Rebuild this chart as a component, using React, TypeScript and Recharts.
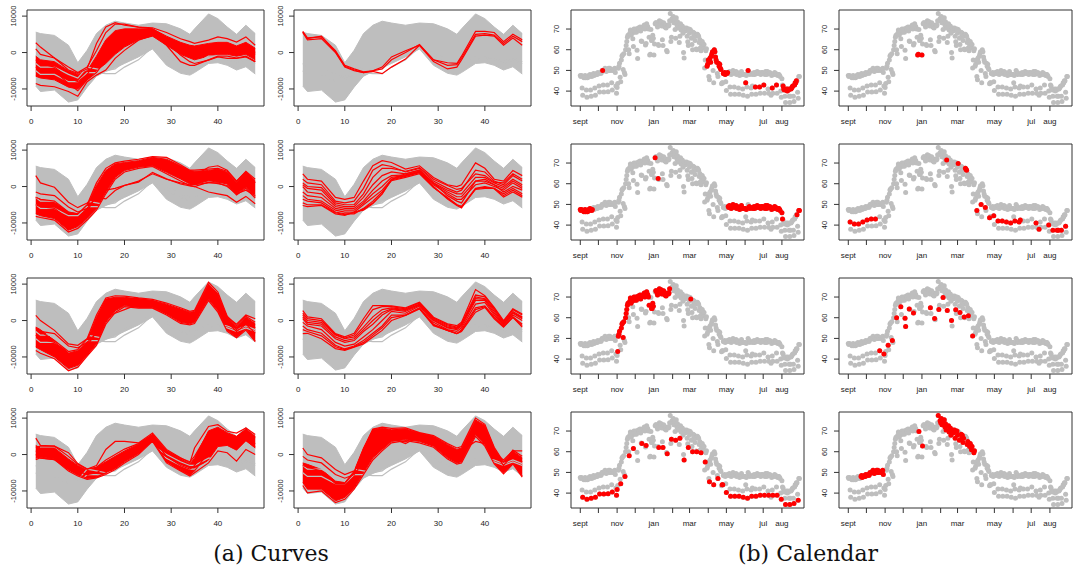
import React from 'react';
import { ComposedChart, ScatterChart, Scatter, Line, Area, XAxis, YAxis, ReferenceArea } from 'recharts';

const GRAY = '#bebebe';
const RED = '#ff0000';
const INK = '#333333';
const SANS = 'Liberation Sans, Arial, Helvetica, sans-serif';

// half-hour positions at which every centred load curve is sampled
const knots = [1, 2, 5, 8, 10, 12, 14, 16, 18, 20, 23, 26, 29, 32, 34, 35, 38, 40, 42, 44, 46, 48];

// envelope of all daily curves (thousands)
const allUpper = [5.6, 5.2, 4.7, 2.0, -2.8, 0.6, 5.2, 7.5, 8.6, 8.1, 7.5, 8.1, 7.9, 6.5, 5.0, 6.5, 10.6, 9.3, 7.0, 5.0, 7.5, 5.2];
const allLower = [-9.2, -10.7, -10.3, -13.6, -13.0, -9.5, -6.5, -5.2, -4.2, -3.0, -1.2, 1.0, -3.5, -5.7, -6.2, -5.5, -3.0, -2.8, -3.5, -4.8, -3.9, -5.9];
// a couple of stray days lying under the envelope
const strayCurves = [
  [-5, -6, -6, -8, -8, -5.5, -5.5, -5.8, -5.8, -4.0, -2.0, 1.5, -1.0, -3, -4, -4, -2, -1.5, -2, -3, -2, -3],
  [-3, -4, -4, -6, -7, -4, -4.5, -5, -4.5, -2.5, -0.8, 2.5, 0, -2, -3, -3, -1, -1, -1.5, -2.5, -1.5, -2.5],
];

// cluster 1: spring weekdays, july saturdays, august
const cluster1Upper = [-1.0, -2.0, -2.5, -5.0, -6.0, -5.0, -1.0, 3.5, 6.0, 6.5, 6.5, 6.5, 4.5, 2.8, 2.0, 1.8, 2.5, 2.8, 2.8, 1.8, 2.8, 1.2];
const cluster1Lower = [-6.5, -7.0, -7.5, -9.5, -10.0, -7.5, -5.0, -3.0, -0.5, 1.5, 3.5, 4.5, 2.0, -0.5, -1.5, -2.0, -1.0, -0.5, -0.5, -1.0, -0.5, -2.0];
const cluster1Curves = [
  [2.7, 1.5, -1.5, -4.8, -5.7, -4.5, 2.5, 7.0, 8.2, 7.5, 7.0, 6.8, 5.5, 3.8, 3.0, 2.5, 3.4, 4.3, 3.8, 2.9, 4.3, 2.0],
  [-8.5, -9.0, -9.4, -10.7, -12.0, -8.0, -6.2, -4.8, -1.6, 0.6, 3.4, 4.7, 2.9, -0.7, -2.5, -3.0, -2.1, -1.2, -1.6, -1.6, -1.2, -2.5],
  [1.0, -0.5, -1.5, -4.0, -5.5, -4.0, 0.5, 5.5, 7.8, 7.8, 7.0, 6.5, 4.0, 1.5, 0.0, -0.5, 1.0, 2.0, 1.5, 0.5, 2.0, 0.0],
  [-4.0, -4.5, -5.0, -8.5, -10.5, -7.5, -5.5, -2.0, 2.0, 4.0, 5.5, 5.5, 2.0, -2.5, -3.5, -3.5, -2.0, -1.0, -1.0, -1.5, -1.0, -2.5],
  [-2.0, -3.0, -4.0, -7.0, -8.0, -6.0, -2.5, 1.5, 4.5, 6.0, 6.0, 6.0, 3.5, 0.5, -0.5, -1.0, 0.5, 1.0, 1.0, 0.0, 1.5, -0.5],
];

// cluster 2: christmas / new year
const cluster2Curves = [
  [5.8, 4.0, 4.3, 0.5, -3.5, -4.5, -5.3, -5.0, -4.0, -1.2, 0.5, 2.0, -2.0, -2.8, -3.0, -1.0, 5.8, 5.8, 5.5, 3.0, 5.0, 3.5],
  [5.5, 3.5, 3.8, 0.0, -4.0, -5.0, -5.5, -5.2, -5.8, -4.0, -1.8, 2.0, -2.5, -4.5, -4.0, -2.0, 4.5, 4.8, 4.5, 2.0, 4.0, 2.0],
  [5.6, 3.8, 4.5, 0.2, -3.8, -4.8, -5.5, -5.0, -4.5, -2.0, 0.0, 2.2, -2.0, -3.5, -3.3, -1.5, 5.0, 5.2, 4.8, 2.5, 4.5, 3.0],
];

// cluster 3: summer and september weekdays
const cluster3Upper = [-2.9, -3.5, -4.3, -7.0, -7.5, -5.2, 0.3, 4.4, 6.2, 6.6, 7.1, 8.0, 7.5, 5.7, 4.4, 4.2, 4.4, 4.8, 3.9, 1.2, 3.9, 1.6];
const cluster3Lower = [-7.5, -8.0, -8.8, -12.0, -11.0, -8.8, -6.1, -1.5, 2.5, 4.4, 5.3, 5.7, 3.9, 2.1, 0.7, 0.5, 1.6, 1.2, 0.7, -2.0, -0.2, -2.9];
const cluster3Curves = [
  [3.0, 1.0, -0.2, -4.3, -5.8, -4.5, -2.5, -1.0, -0.5, 0.3, 1.2, 3.9, 2.1, 0.7, 0.2, 0.0, -1.5, -2.0, -2.5, -4.3, -2.7, -4.7],
  [-1.5, -2.0, -2.5, -5.6, -7.0, -6.0, -3.0, -3.4, -1.1, 0.3, 1.5, 3.5, 2.0, 1.0, 0.5, 0.5, 1.0, 1.0, 0.0, -2.0, -1.0, -2.5],
  [-5.0, -5.5, -6.0, -9.0, -10.0, -7.0, -2.0, 3.0, 5.5, 6.0, 6.5, 7.0, 6.0, 4.0, 3.0, 3.0, 5.3, 5.7, 4.5, 1.5, 4.0, 1.0],
  [-8.2, -8.5, -9.2, -12.5, -11.5, -9.2, -6.5, -2.0, 2.0, 4.0, 5.0, 5.5, 3.5, 1.5, 0.3, 0.0, 1.2, 0.8, 0.3, -2.3, -0.5, -3.2],
  [-3.0, -3.5, -4.0, -7.0, -7.5, -5.0, 1.0, 5.0, 6.5, 7.0, 7.5, 8.2, 8.0, 6.0, 4.5, 4.5, 4.8, 5.0, 4.2, 1.5, 4.2, 2.0],
];

// cluster 4: autumn and spring saturdays, bank holidays
const cluster4Curves = [
  [3.5, 2.0, 1.5, -3.0, -3.5, -3.0, 1.5, 5.7, 7.1, 6.6, 4.8, 5.7, 2.5, 0.5, 0.0, 0.5, 6.5, 5.0, 2.0, 1.5, 4.4, 3.0],
  [2.0, 1.0, 0.5, -4.0, -4.5, -4.0, -0.5, 4.5, 6.0, 5.5, 4.0, 5.0, 1.5, -0.5, -1.5, -1.0, 4.5, 4.0, 1.5, 0.5, 3.0, 1.5],
  [0.5, -0.5, -1.0, -5.0, -5.5, -5.5, -3.0, 0.5, 3.0, 4.0, 3.5, 4.5, 1.0, -1.0, -2.0, -2.0, 2.5, 2.5, 1.0, 0.0, 2.0, 0.5],
  [-1.5, -2.5, -3.0, -6.0, -6.5, -6.5, -4.5, -2.0, 0.0, 2.5, 3.0, 4.0, 0.5, -2.0, -3.5, -3.5, 0.5, 1.0, 0.0, -1.0, 1.0, -0.5],
  [-3.5, -4.0, -4.5, -7.0, -7.5, -7.5, -6.0, -4.0, -1.5, 1.6, 2.5, 3.5, -0.3, -3.0, -5.0, -5.5, -0.5, 0.0, -0.5, -2.0, -0.5, -2.0],
  [-5.2, -5.5, -5.2, -7.5, -7.9, -7.0, -6.5, -4.7, -2.0, 2.0, 3.0, 4.0, 0.0, -3.4, -5.2, -5.9, -0.6, -0.2, -0.6, -2.9, -1.5, -2.9],
  [1.0, 0.0, -0.3, -4.5, -5.0, -5.0, -2.0, 2.5, 5.0, 5.0, 4.2, 5.2, 2.0, 0.3, -0.8, -0.5, 3.5, 3.0, 1.2, 1.0, 3.5, 2.0],
  [-2.5, -3.5, -4.0, -6.5, -7.0, -7.0, -5.0, -3.0, -1.0, 2.0, 3.5, 4.5, 1.0, -2.5, -4.0, -4.5, 1.5, 1.5, 0.5, -1.5, 0.0, -1.0],
  [0.0, -1.5, -2.0, -5.5, -6.0, -6.0, -4.0, -1.0, 1.5, 3.0, 3.2, 4.2, 0.8, -1.5, -2.8, -2.8, 1.5, 2.0, 0.5, -0.5, 1.5, 0.0],
  [-4.5, -5.0, -5.0, -7.2, -7.7, -7.2, -6.2, -4.5, -2.0, 1.8, 2.8, 3.8, -0.2, -3.2, -5.0, -5.5, -0.8, -0.5, -0.5, -2.5, -1.0, -2.5],
];

// cluster 5: winter weekdays
const cluster5Upper = [-1.8, -2.5, -5.5, -9.0, -8.2, -5.5, 0.9, 5.9, 6.4, 6.4, 5.9, 5.5, 4.5, 3.2, 2.3, 2.5, 10.0, 7.3, 0.9, -1.8, 0.9, -0.9];
const cluster5Lower = [-7.3, -8.0, -10.0, -13.2, -12.3, -9.5, -6.4, -0.5, 2.7, 4.1, 3.6, 3.6, 1.8, -0.5, -0.9, -0.5, 5.9, 2.7, -2.7, -4.5, -2.3, -5.5];
const cluster5Curves = [
  [1.4, 0.0, -2.7, -6.4, -6.8, -5.0, -1.0, 3.0, 5.0, 6.0, 6.0, 5.5, 4.0, 3.0, 1.5, 2.0, 8.0, 6.0, 1.0, -1.0, 1.5, 0.5],
  [-2.5, -3.0, -3.6, -7.0, -7.5, -6.0, -3.5, 2.0, 4.0, 5.0, 5.0, 4.8, 3.5, 2.0, 1.0, 1.0, 7.0, 5.0, 0.0, -2.5, 0.0, -2.0],
  [-8.2, -9.0, -10.5, -13.8, -12.8, -9.8, -6.8, -1.0, 2.2, 3.8, 3.4, 3.4, 1.5, -0.8, -1.2, -0.8, 5.5, 2.3, -3.0, -4.7, -2.6, -5.8],
  [-4.0, -5.0, -6.0, -9.0, -9.0, -7.0, -3.0, 1.0, 2.0, 3.0, 4.5, 5.0, 3.0, 1.0, 0.5, 0.8, 8.5, 6.0, -0.5, -3.0, -1.0, -3.5],
  [-2.0, -3.0, -5.5, -8.5, -8.0, -5.0, 1.5, 6.2, 6.8, 6.7, 6.2, 5.8, 4.8, 3.5, 2.5, 2.8, 10.5, 7.8, 1.2, -1.5, 1.2, -0.5],
];

// cluster 6: winter saturdays
const cluster6Curves = [
  [2.7, 1.0, 0.5, -3.6, -4.5, -3.5, 0.5, 4.1, 4.1, 4.0, 3.5, 5.0, 0.9, -0.9, -1.4, -0.5, 8.5, 6.8, 3.6, 0.0, 3.2, 1.8],
  [1.5, 0.0, -0.5, -4.0, -5.0, -4.5, -1.8, 1.0, 3.0, 3.5, 3.0, 4.5, 0.5, -1.5, -2.0, -1.0, 6.5, 6.0, 3.0, -0.5, 2.5, 1.0],
  [0.5, -1.0, -1.5, -5.0, -6.0, -5.5, -3.0, -1.0, 1.5, 3.0, 2.5, 4.2, 0.0, -2.0, -2.5, -1.5, 5.5, 5.5, 2.0, -1.0, 2.0, 0.5],
  [-0.5, -1.5, -2.5, -6.0, -7.0, -6.5, -4.5, -2.5, 0.0, 2.5, 2.0, 4.0, -0.5, -2.5, -3.0, -2.0, 4.5, 5.0, 1.5, -1.2, 1.5, 0.0],
  [-1.5, -2.5, -3.5, -6.8, -7.8, -7.0, -5.5, -3.5, -1.5, 1.5, 1.5, 3.5, -1.0, -2.7, -3.6, -2.5, 3.5, 4.0, 1.0, -1.5, 1.0, -1.0],
  [-3.6, -3.5, -5.0, -7.7, -8.2, -7.3, -6.4, -4.5, -2.7, 0.0, 1.4, 3.2, -1.4, -2.7, -3.6, -3.0, 2.3, 3.6, 0.5, -1.8, 0.9, -1.8],
  [2.0, 0.5, 0.0, -3.8, -4.8, -4.0, -0.5, 3.0, 3.8, 3.8, 3.2, 4.8, 0.7, -1.2, -1.8, -0.8, 7.0, 6.5, 3.3, -0.3, 3.0, 1.5],
  [1.0, -0.5, -1.0, -4.5, -5.5, -5.0, -2.5, 0.0, 2.2, 3.2, 2.8, 4.4, 0.2, -1.8, -2.2, -1.2, 6.0, 5.8, 2.5, -0.8, 2.2, 0.8],
  [-2.5, -3.0, -4.2, -7.2, -8.0, -7.2, -6.0, -4.0, -2.0, 0.8, 1.5, 3.3, -1.2, -2.7, -3.6, -2.8, 3.0, 3.8, 0.8, -1.6, 0.9, -1.4],
];

// cluster 7: sundays
const cluster7Upper = [2.5, 1.8, 1.8, -1.2, -3.0, -4.3, -3.5, -2.0, -0.5, 1.0, 2.8, 5.5, 1.0, -1.2, -2.6, -1.0, 6.5, 7.5, 6.0, 5.0, 7.0, 5.0];
const cluster7Lower = [-1.0, -0.7, -1.2, -4.2, -5.6, -6.5, -6.1, -5.2, -3.8, -2.0, 0.3, 3.8, -2.0, -4.2, -5.6, -4.2, -1.5, 2.2, 2.5, 1.2, 3.8, 1.8];
const cluster7Curves = [
  [4.5, 2.5, 2.3, -0.5, -2.7, -4.0, -3.0, 1.4, 3.6, 3.6, 3.2, 5.9, 1.4, -0.9, -2.3, 1.8, 7.7, 8.2, 6.4, 5.9, 7.3, 5.5],
  [2.0, 2.3, 2.3, 0.5, -2.5, -4.0, -3.5, -1.5, 0.0, 1.5, 3.0, 5.5, 1.0, -1.0, -2.0, -0.5, 6.0, 7.0, 5.5, 4.5, 6.5, 4.5],
  [0.0, -1.0, -1.4, -4.5, -5.9, -6.8, -6.4, -5.5, -4.1, -2.3, 0.0, 3.6, -2.3, -4.5, -5.9, -5.0, -2.3, 1.0, 0.5, -1.8, 1.4, 0.0],
  [1.0, 0.5, 0.0, -3.0, -4.5, -5.5, -5.0, -3.5, -2.0, 0.0, 1.5, 4.5, -0.5, -3.0, -4.0, -3.0, 2.0, 5.0, 4.0, 3.0, 5.0, 3.0],
  [-1.4, -0.9, -1.4, -4.0, -5.5, -6.5, -6.2, -5.0, -3.5, -1.5, 0.5, 4.0, -1.8, -4.3, -5.5, -4.5, 0.5, 3.0, 3.0, 1.5, 4.0, 2.0],
];

// cluster 8: autumn and late-winter weekdays
const cluster8Upper = [-2.3, -2.7, -4.1, -7.3, -7.7, -4.5, 1.8, 6.8, 7.3, 6.8, 7.0, 5.9, 5.0, 2.7, 1.4, 1.8, 9.5, 8.0, 1.8, -2.3, 0.9, -0.9];
const cluster8Lower = [-7.7, -9.5, -9.5, -12.7, -11.8, -9.1, -5.0, -0.9, 1.4, 3.6, 4.1, 3.6, 2.3, -0.9, -2.3, -2.0, 5.5, 2.7, -2.3, -5.0, -2.3, -5.9];
const cluster8Curves = [
  [1.8, 0.0, -0.9, -4.1, -5.5, -4.5, -1.0, 2.5, 4.0, 4.5, 3.0, 5.0, 3.0, 1.5, 0.5, 1.0, 3.6, 3.0, 0.5, -1.5, 1.0, 1.0],
  [-0.5, -1.5, -2.3, -5.5, -6.5, -5.5, -2.0, 1.0, 2.5, 4.0, 3.5, 5.5, 4.0, 1.0, 0.0, 0.5, 6.0, 5.0, 0.5, -3.0, 0.0, -2.0],
  [-8.5, -10.5, -10.0, -13.2, -12.3, -9.5, -5.5, -1.5, 1.0, 3.2, 3.8, 3.2, 2.0, -1.2, -2.6, -2.3, 5.0, 2.3, -2.6, -5.3, -2.6, -6.2],
  [-3.0, -3.5, -4.5, -8.0, -8.0, -5.0, 1.5, 7.0, 7.5, 7.2, 7.3, 6.0, 5.2, 3.0, 1.8, 2.2, 10.0, 8.3, 2.0, -2.0, 1.2, -0.5],
];

type CurveGroup = { upper?: number[]; lower?: number[]; curves: number[][] };
const curveGroups: CurveGroup[] = [
  { upper: cluster1Upper, lower: cluster1Lower, curves: cluster1Curves },
  { curves: cluster2Curves },
  { upper: cluster3Upper, lower: cluster3Lower, curves: cluster3Curves },
  { curves: cluster4Curves },
  { upper: cluster5Upper, lower: cluster5Lower, curves: cluster5Curves },
  { curves: cluster6Curves },
  { upper: cluster7Upper, lower: cluster7Lower, curves: cluster7Curves },
  { upper: cluster8Upper, lower: cluster8Lower, curves: cluster8Curves },
];

// daily load, one row per week starting Wednesday 1 September (Wed Thu Fri Sat Sun Mon Tue)
const dailyLoad = [
  [47.5, 47, 47.5, 41.5, 38, 47, 46.5],
  [47, 47.5, 46.5, 40.5, 37, 46.5, 47],
  [47.5, 47, 48, 40.5, 37.5, 47, 47.5],
  [48, 48.5, 47.5, 41.5, 38, 48, 48.5],
  [48, 49, 48.5, 42.5, 39.6, 49, 48.5],
  [49, 50, 50, 43, 39.6, 50.5, 51],
  [50, 49.5, 50.5, 43, 39.7, 51, 50],
  [51, 50, 50.5, 44, 40.5, 50, 50.5],
  [50, 51, 49, 42.5, 39, 41.8, 43.7],
  [51, 52, 53.5, 46.7, 44.5, 55, 57],
  [57.5, 50.5, 58, 49, 48, 60, 62],
  [64, 66, 67, 60, 58, 68, 69.5],
  [67, 69, 68, 65.3, 61.5, 70, 68.5],
  [69, 70, 68.5, 59.7, 55.8, 70.5, 69.5],
  [70, 71, 69, 64.2, 64, 71, 70.5],
  [71, 72, 70, 62.3, 63, 72.5, 71.5],
  [71, 70, 66, 57.5, 57.8, 69.8, 64.5],
  [64.5, 67, 65.5, 57.5, 62.8, 72.5, 73],
  [73, 72, 71, 62.5, 62, 74, 73.5],
  [72.5, 73.5, 71.5, 64.8, 62, 73, 72],
  [71, 72, 70.5, 59.6, 59, 72, 71.5],
  [72, 74, 77.5, 64, 66, 75, 74],
  [76, 73, 74.5, 69.8, 65.5, 75.5, 72],
  [73.5, 70.5, 71.5, 63.5, 66.5, 72.5, 69.5],
  [70, 71.5, 68, 58.6, 56, 70.5, 69],
  [69.5, 70.5, 66.5, 63.9, 62, 70, 68],
  [69.8, 69, 65.5, 62.5, 60, 68.5, 66.5],
  [68, 64.5, 66.5, 60.4, 60, 67.5, 67],
  [66.5, 63.5, 65, 61, 59.5, 62.5, 64],
  [63, 61, 62.5, 51.2, 55, 59.5, 60.5],
  [52, 53, 55, 47, 45.5, 56, 54],
  [57, 58, 59, 50, 44, 60, 59],
  [56.5, 55, 54, 48.5, 47, 53.5, 52],
  [53, 51, 50.5, 43.5, 44, 44, 48.5],
  [48.5, 49, 48, 44.5, 40.3, 48.5, 49],
  [49, 48.5, 49.5, 42, 38.5, 48, 49],
  [48.5, 50, 49, 42, 38.5, 48.5, 49.5],
  [48, 49, 48.5, 41.5, 38.5, 47.5, 48.5],
  [48.5, 49.5, 48, 41, 38, 48, 48],
  [48, 44, 47.5, 42, 37.5, 50, 48.5],
  [49, 48, 48.5, 41.5, 38.5, 42.5, 48],
  [48.5, 49, 48, 42, 38.5, 48.5, 49.5],
  [49, 48.5, 49, 42, 39, 48, 49],
  [48.5, 49, 48.5, 43, 39, 48, 49.5],
  [49, 48, 49.5, 41, 39, 48.5, 49],
  [48.5, 38, 47.5, 41.5, 39, 48, 48.5],
  [49, 48, 48.5, 43, 39, 47.5, 48],
  [48, 47.5, 47, 40, 37, 46, 43],
  [42.5, 41, 40.5, 37.5, 34.5, 41, 40.5],
  [40, 41, 40.5, 37.5, 34.5, 37.5, 41],
  [41.5, 42, 42.5, 37.5, 35, 43, 44],
  [44, 45, 45, 39.5, 36.5, 47, 47],
];

// cluster of each day, same layout as dailyLoad
const dailyCluster = [
  '3334733', '3334733', '3334733', '8884788', '8884788', '8814788', '8884788', '8886788',
  '8886775', '5556755', '5556755', '5556755', '5556755', '5556655', '5556755', '5556755',
  '5552285', '5552835', '5553755', '5556755', '5556755', '5586788', '8886788', '8846788',
  '8886788', '8886788', '4586788', '8886744', '4886788', '8886788', '1114711', '1114711',
  '1114711', '1114771', '1114711', '3334733', '3334733', '3334733', '3334733', '3134713',
  '3334743', '3331733', '3331733', '3331733', '3334733', '3431733', '3331733', '3334733',
  '1114711', '1114741', '1114711', '1134733',
];

const monthStarts = [0, 30, 61, 91, 122, 153, 181, 212, 242, 273, 303, 334];
const monthLabels = ['sept', '', 'nov', '', 'jan', '', 'mar', '', 'may', '', 'jul', 'aug'];
const curveTicksX = [0, 10, 20, 30, 40];
const curveTicksY = [-10, 0, 10];
const loadTicks = [40, 50, 60, 70];

const days = dailyLoad.flatMap((week, w) =>
  week.map((load, i) => ({ day: w * 7 + i, load, cluster: Number(dailyCluster[w][i]) }))
);

// layout of the two 4x2 grids (plot frames)
const ML = 30, MR = 4, MT = 4, MB = 26;
const rowTops = [10, 144, 278, 412];
const frameH = 96;
const curveLefts = [27, 294];
const curveW = 237;
const calLefts = [571, 839];
const calW = 233;

const XTick = ({ x, y, payload, names }: any) => (
  <text x={x} y={y + 13} textAnchor="middle" fontSize={8} fill="#222" fontFamily={SANS}>
    {names ? names[payload.value] ?? '' : payload.value}
  </text>
);

const YTick = ({ x, y, payload, shift, fmt }: any) => {
  const tx = x - shift;
  return (
    <text x={tx} y={y} transform={`rotate(-90 ${tx} ${y})`} textAnchor="middle" fontSize={7.5} fill="#222" fontFamily={SANS}>
      {fmt ? fmt(payload.value) : payload.value}
    </text>
  );
};

const monthNames: Record<number, string> = Object.fromEntries(monthStarts.map((d, i) => [d, monthLabels[i]]));

function CurvePanel({ idx }: { idx: number }) {
  const g = curveGroups[idx];
  const rows = knots.map((x, i) => {
    const r: Record<string, any> = { x, all: [allLower[i], allUpper[i]] };
    strayCurves.forEach((s, j) => (r['g' + j] = s[i]));
    if (g.upper && g.lower) r.core = [g.lower[i], g.upper[i]];
    g.curves.forEach((s, j) => (r['r' + j] = s[i]));
    return r;
  });
  const left = curveLefts[idx % 2];
  const top = rowTops[Math.floor(idx / 2)];
  const xd: [number, number] = [-0.88, 49.88];
  const yd: [number, number] = [-14.68, 11.68];
  return (
    <div style={{ position: 'absolute', left: left - ML, top: top - MT }}>
      <ComposedChart width={curveW + ML + MR} height={frameH + MT + MB} data={rows} margin={{ top: MT, right: MR, bottom: 0, left: 0 }}>
        <XAxis dataKey="x" type="number" domain={xd} ticks={curveTicksX} interval={0} allowDataOverflow
          axisLine={false} tickLine={{ stroke: INK }} tickSize={5} tickMargin={0} height={MB} tick={<XTick />} />
        <YAxis type="number" domain={yd} ticks={curveTicksY} interval={0} allowDataOverflow
          axisLine={false} tickLine={{ stroke: INK }} tickSize={5} tickMargin={0} width={ML}
          tick={<YTick shift={5.5} fmt={(v: number) => String(v * 1000)} />} />
        <Area dataKey="all" type="linear" fill={GRAY} fillOpacity={1} stroke={GRAY} strokeWidth={1} dot={false} activeDot={false} isAnimationActive={false} />
        {strayCurves.map((_, j) => (
          <Line key={'g' + j} dataKey={'g' + j} type="linear" stroke={GRAY} strokeWidth={1.2} dot={false} activeDot={false} isAnimationActive={false} />
        ))}
        {g.upper && (
          <Area dataKey="core" type="linear" fill={RED} fillOpacity={1} stroke={RED} strokeWidth={1} dot={false} activeDot={false} isAnimationActive={false} />
        )}
        {g.curves.map((_, j) => (
          <Line key={'r' + j} dataKey={'r' + j} type="linear" stroke={RED} strokeWidth={1.2} dot={false} activeDot={false} isAnimationActive={false} />
        ))}
        <ReferenceArea x1={xd[0]} x2={xd[1]} y1={yd[0]} y2={yd[1]} fill="none" stroke={INK} strokeWidth={1} ifOverflow="visible" />
      </ComposedChart>
    </div>
  );
}

const dot = (color: string) => (p: any) => <circle cx={p.cx} cy={p.cy} r={2.5} fill={color} />;

function CalendarPanel({ idx }: { idx: number }) {
  const members = days.filter((d) => d.cluster === idx + 1);
  const left = calLefts[idx % 2];
  const top = rowTops[Math.floor(idx / 2)];
  const xd: [number, number] = [-15.4, 370.6];
  const yd: [number, number] = [32.8, 79.2];
  return (
    <div style={{ position: 'absolute', left: left - ML, top: top - MT }}>
      <ScatterChart width={calW + ML + MR} height={frameH + MT + MB} margin={{ top: MT, right: MR, bottom: 0, left: 0 }}>
        <XAxis dataKey="day" type="number" domain={xd} ticks={monthStarts} interval={0} allowDataOverflow
          axisLine={false} tickLine={{ stroke: INK }} tickSize={5} tickMargin={0} height={MB} tick={<XTick names={monthNames} />} />
        <YAxis dataKey="load" type="number" domain={yd} ticks={loadTicks} interval={0} allowDataOverflow
          axisLine={false} tickLine={{ stroke: INK }} tickSize={5} tickMargin={0} width={ML} tick={<YTick shift={7} />} />
        <Scatter data={days} shape={dot(GRAY)} isAnimationActive={false} />
        <Scatter data={members} shape={dot(RED)} isAnimationActive={false} />
        <ReferenceArea x1={xd[0]} x2={xd[1]} y1={yd[0]} y2={yd[1]} fill="none" stroke={INK} strokeWidth={1} ifOverflow="visible" />
      </ScatterChart>
    </div>
  );
}

export default function App() {
  const panels = [0, 1, 2, 3, 4, 5, 6, 7];
  return (
    <div style={{ position: 'absolute', left: 0, top: 0, width: 1073, height: 572, overflow: 'hidden', background: '#fff' }}>
      {panels.map((i) => <CurvePanel key={'c' + i} idx={i} />)}
      {panels.map((i) => <CalendarPanel key={'k' + i} idx={i} />)}
      <svg width={1073} height={572} style={{ position: 'absolute', left: 0, top: 0, pointerEvents: 'none' }}>
        <text x={271} y={561} textAnchor="middle" fontSize={22} fontFamily="DejaVu Serif, serif" fill="#111">(a) Curves</text>
        <text x={808} y={561} textAnchor="middle" fontSize={22} fontFamily="DejaVu Serif, serif" fill="#111">(b) Calendar</text>
      </svg>
    </div>
  );
}
